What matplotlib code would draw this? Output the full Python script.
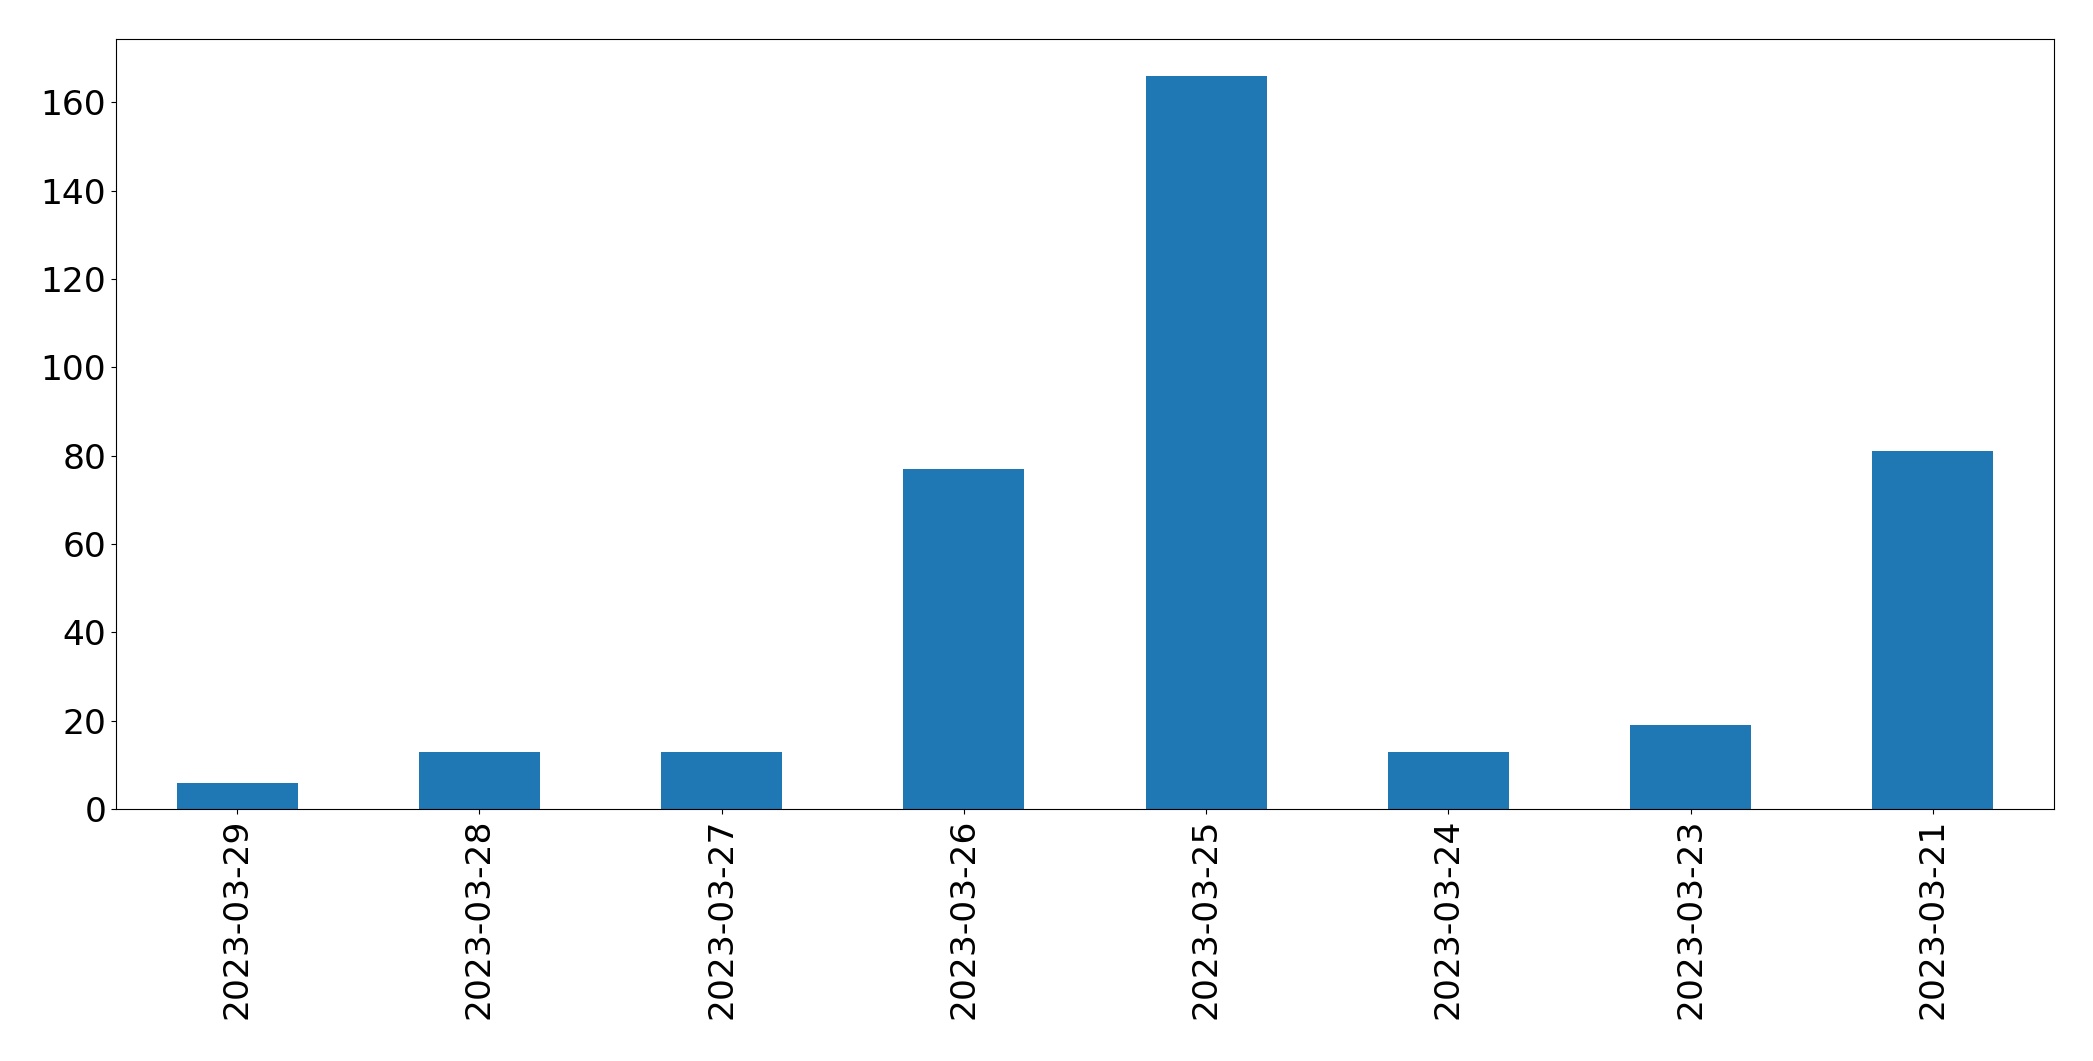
import matplotlib
matplotlib.use("Agg")
import matplotlib.pyplot as plt

dates = ["2023-03-29", "2023-03-28", "2023-03-27", "2023-03-26",
         "2023-03-25", "2023-03-24", "2023-03-23", "2023-03-21"]
counts = [6, 13, 13, 77, 166, 13, 19, 81]

fig = plt.figure(figsize=(20.93, 10.61), dpi=100)
ax = fig.add_axes([116/2093, 1 - 809/1061, (2054-116)/2093, (809-39.3)/1061])
x = list(range(len(dates)))
ax.bar(x, counts, width=0.5, color="#1f77b4")
ax.set_xlim(-0.5, len(dates) - 0.5)
ax.set_xticks(x)
ax.set_xticklabels(dates, rotation=90, fontsize=24.8)
ax.tick_params(axis="y", labelsize=24.8)
ax.set_yticks(range(0, 161, 20))
fig.savefig("out.png", dpi=100)
